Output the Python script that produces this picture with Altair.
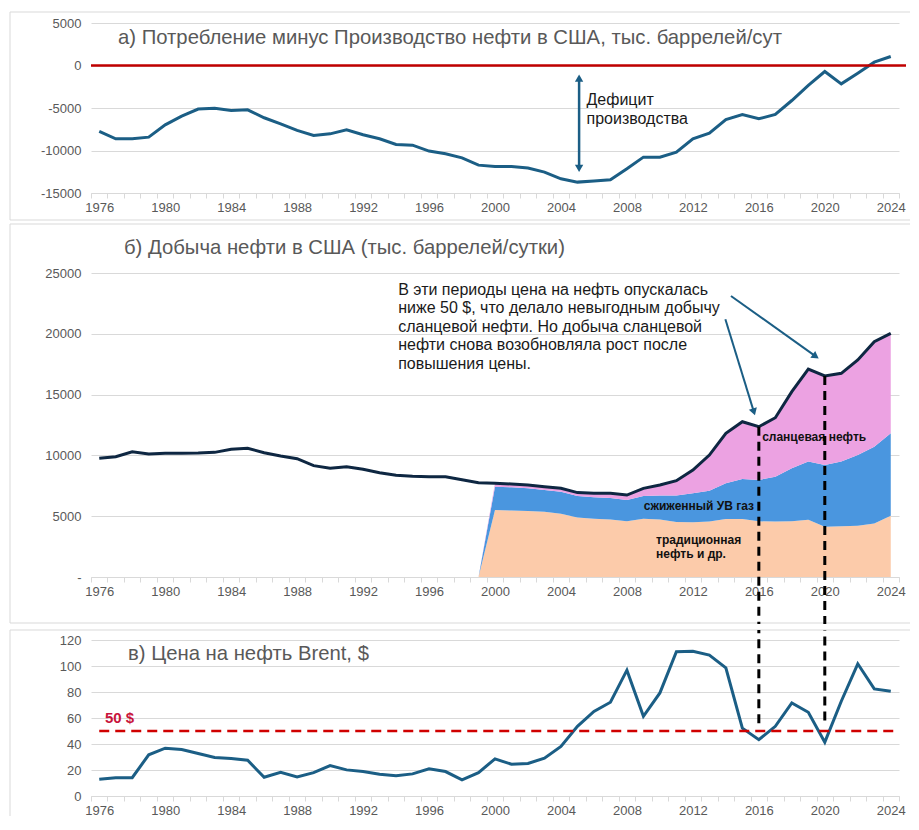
import altair as alt
import pandas as pd

# ---------------- data ----------------
years = list(range(1976, 2025))

# a) consumption minus production, thousand barrels/day
deficit = [-7760, -8620, -8620, -8430, -6980, -5960, -5130, -5020, -5290, -5210,
           -6150, -6860, -7640, -8230, -8040, -7570, -8150, -8620, -9290, -9370,
           -10070, -10390, -10860, -11720, -11880, -11880, -12070, -12540, -13330, -13720,
           -13600, -13450, -12150, -10780, -10780, -10190, -8620, -7960, -6350, -5760,
           -6270, -5760, -4120, -2350, -710, -2160, -900, 390, 1060]

# b) total production
production_total = [9760, 9890, 10300, 10120, 10170, 10180, 10200, 10250, 10500, 10580,
                    10220, 9950, 9730, 9160, 8940, 9070, 8860, 8580, 8360, 8280,
                    8250, 8250, 8000, 7760, 7700, 7650, 7570, 7430, 7290, 6940,
                    6880, 6880, 6740, 7290, 7570, 7920, 8800, 10030, 11820, 12770,
                    12360, 13100, 15240, 17100, 16530, 16750, 17850, 19350, 20040]

stack_years = list(range(1999, 2025))
conventional = [0, 5510, 5460, 5420, 5370, 5200, 4900, 4800, 4720, 4580, 4800, 4730, 4520,
                4500, 4560, 4780, 4760, 4580, 4560, 4580, 4700, 4140, 4180, 4220, 4400, 5040]
ngl = [0, 1920, 1920, 1870, 1780, 1820, 1760, 1750, 1780, 1750, 1860, 1980, 2190,
       2380, 2540, 2920, 3300, 3400, 3690, 4360, 4790, 5070, 5310, 5820, 6320, 6780]
shale = [0, 270, 270, 280, 280, 270, 280, 330, 380, 410, 630, 860, 1210,
         1920, 2930, 4120, 4710, 4380, 4850, 6300, 7610, 7320, 7260, 7810, 8630, 8220]
series_names = ["традиционная нефть и др.", "сжиженный УВ газ", "сланцевая нефть"]
series_colors = ["#fccbaa", "#4a96df", "#eca2e2"]

# c) Brent price, $
brent = [12.9, 14.1, 14.1, 31.7, 36.8, 35.8, 32.7, 29.6, 28.8, 27.5,
         14.4, 18.3, 14.7, 18.0, 23.4, 20.1, 18.8, 16.7, 15.5, 17.0,
         20.9, 18.8, 12.4, 18.0, 28.6, 24.4, 25.0, 29.1, 38.1, 53.6,
         65.1, 72.1, 96.8, 61.3, 79.3, 111.0, 111.3, 108.4, 98.6, 52.2,
         43.3, 53.6, 71.6, 64.4, 41.4, 72.9, 101.7, 82.4, 80.6]

low_price_years = [2016, 2020]
low_price_prod = [12360, 16530]
low_price_brent_top = [56, 58]

titles = ["а) Потребление минус Производство нефти в США, тыс. баррелей/сут",
          "б) Добыча нефти в США (тыс. баррелей/сутки)",
          "в) Цена на нефть Brent, $"]
note_a = ["Дефицит", "производства"]
note_b = ["В эти периоды цена на нефть опускалась",
          "ниже 50 $, что делало невыгодным добычу",
          "сланцевой нефти. Но добыча сланцевой",
          "нефти снова возобновляла рост после",
          "повышения цены."]

# ---------------- style ----------------
W = 808
HA, HB, HC = 170, 304, 156
FONT = "Liberation Sans"
GRID = "#d9d9d9"
LABEL = "#595959"
TEAL = "#1b5e85"
NAVY = "#0e2742"
RED = "#c00000"

xscale = alt.Scale(domain=[1975.5, 2024.5], nice=False, zero=False)
tick_vals = [1975.5 + i for i in range(50)]

XAX = alt.Axis(values=tick_vals,
               labelExpr="(datum.value + 0.5) % 4 == 0 ? '' + (datum.value + 0.5) : ''",
               labelOffset=W / 49 / 2, labelFlush=False, labelOverlap=False,
               grid=False, domainColor=GRID, domainWidth=1, tickColor=GRID,
               tickSize=5, labelPadding=3, labelColor=LABEL, labelFontSize=13,
               labelFont=FONT, title=None)


def y_axis(vals, expr):
    return alt.Axis(values=vals, labelExpr=expr, grid=True, gridColor=GRID, gridWidth=1,
                    domain=False, ticks=False, labelPadding=10, labelColor=LABEL,
                    labelFontSize=13, labelFont=FONT, title=None)


YAX_A = y_axis([-15000, -10000, -5000, 0, 5000], "'' + datum.value")
YAX_B = y_axis([0, 5000, 10000, 15000, 20000, 25000],
               "datum.value == 0 ? '-' : '' + datum.value")
YAX_C = y_axis([0, 20, 40, 60, 80, 100, 120], "'' + datum.value")


def X(f):
    return alt.X(f, scale=xscale, axis=XAX)


def one():
    return pd.DataFrame({"k": [0]})


def box(top, bottom, draw_bottom=True):
    """Panel frame: top, left and (optionally) bottom edges; the right edge lies off-page."""
    layers = [
        alt.Chart(one()).mark_rule(color=GRID, strokeWidth=1).encode(
            x=alt.value(-81), x2=alt.value(W + 11), y=alt.value(top)),
        alt.Chart(one()).mark_rule(color=GRID, strokeWidth=1).encode(
            x=alt.value(-81), y=alt.value(top), y2=alt.value(bottom)),
    ]
    if draw_bottom:
        layers.append(alt.Chart(one()).mark_rule(color=GRID, strokeWidth=1).encode(
            x=alt.value(-81), x2=alt.value(W + 11), y=alt.value(bottom)))
    return alt.layer(*layers)


def title_text(txt, x, y):
    return alt.Chart(one()).mark_text(text=txt, align="left", baseline="middle",
                                      fontSize=20.3, font=FONT, color=LABEL).encode(
        x=alt.value(x), y=alt.value(y))


# ---------------- panel a ----------------
ya = alt.Scale(domain=[-15000, 5000], nice=False)


def YA(f):
    return alt.Y(f, scale=ya, axis=YAX_A)


dfa = pd.DataFrame({"year": years, "v": deficit})

a_line = alt.Chart(dfa).mark_line(color=TEAL, strokeWidth=3).encode(x=X("year:Q"), y=YA("v:Q"))
a_zero = alt.Chart(pd.DataFrame({"v": [0]})).mark_rule(color=RED, strokeWidth=2.5).encode(
    y=YA("v:Q"), x=alt.value(0), x2=alt.value(W + 7))
a_shaft = alt.Chart(pd.DataFrame({"x": [2005.1], "y1": [-1494], "y2": [-12113]})).mark_rule(
    color=TEAL, strokeWidth=2.5).encode(x=X("x:Q"), y=YA("y1:Q"), y2="y2:Q")
a_heads = alt.Chart(pd.DataFrame({"x": [2005.1, 2005.1], "y": [-1494, -12113],
                                  "s": ["triangle-up", "triangle-down"]})).mark_point(
    filled=True, color=TEAL, size=70, opacity=1).encode(
    x=X("x:Q"), y=YA("y:Q"), shape=alt.Shape("s:N", scale=None, legend=None))
a_note = alt.Chart(pd.DataFrame({"x": [2005.55], "y": [-3116]})).mark_text(
    text=note_a, align="left", baseline="top", fontSize=16, lineHeight=19, font=FONT,
    color="#1a1a1a").encode(x=X("x:Q"), y=YA("y:Q"))

pa = alt.layer(box(-11, HA + 27), a_line, a_zero, a_shaft, a_heads, a_note,
               title_text(titles[0], 27, 15)).properties(width=W, height=HA)

# ---------------- panel b ----------------
yb = alt.Scale(domain=[0, 25000], nice=False)


def YB(f, **kw):
    return alt.Y(f, scale=yb, axis=YAX_B, **kw)


rows = []
for i, yr in enumerate(stack_years):
    for k, vals in enumerate([conventional, ngl, shale]):
        rows.append({"year": yr, "series": series_names[k], "ord": k, "v": vals[i]})
dfs = pd.DataFrame(rows)

b_area = alt.Chart(dfs).mark_area(interpolate="linear", opacity=1).encode(
    x=X("year:Q"),
    y=YB("v:Q", stack="zero"),
    color=alt.Color("series:N", scale=alt.Scale(domain=series_names, range=series_colors),
                    legend=None),
    order=alt.Order("ord:Q"))
b_line = alt.Chart(pd.DataFrame({"year": years, "v": production_total})).mark_line(
    color=NAVY, strokeWidth=3).encode(x=X("year:Q"), y=YB("v:Q"))
b_dash = alt.Chart(pd.DataFrame({"year": low_price_years, "v": low_price_prod})).mark_rule(
    color="black", strokeWidth=3, strokeDash=[9, 6]).encode(
    x=X("year:Q"), y=YB("v:Q"), y2=alt.value(HB + 47))
b_shafts = alt.Chart(pd.DataFrame({"x1": [2013.97, 2014.31], "y1": [21200, 23110],
                                   "x2": [2015.70, 2019.45], "y2": [13580, 18142]})).mark_rule(
    color=TEAL, strokeWidth=2).encode(x=X("x1:Q"), y=YB("y1:Q"), x2="x2:Q", y2="y2:Q")
b_heads = alt.Chart(pd.DataFrame({"x": [2015.70, 2019.45], "y": [13580, 18142],
                                  "a": [72.9, 35.5]})).mark_point(
    filled=True, color=TEAL, size=70, opacity=1, shape="triangle-right").encode(
    x=X("x:Q"), y=YB("y:Q"), angle=alt.Angle("a:Q", scale=None))
b_note = alt.Chart(pd.DataFrame({"x": [1994.13], "y": [24300]})).mark_text(
    text=note_b, align="left", baseline="top", fontSize=16, lineHeight=18.6, font=FONT,
    color="#1a1a1a").encode(x=X("x:Q"), y=YB("y:Q"))
b_lab1 = alt.Chart(pd.DataFrame({"x": [2016.2, 2009.02], "y": [11540, 5865],
                                 "t": ["сланцевая нефть", "сжиженный УВ газ"]})).mark_text(
    align="left", baseline="middle", fontSize=12, fontWeight="bold", font=FONT,
    color="#111111").encode(x=X("x:Q"), y=YB("y:Q"), text="t:N")
b_lab2 = alt.Chart(pd.DataFrame({"x": [2009.77], "y": [3430]})).mark_text(
    text=["традиционная", "нефть и др."], align="left", baseline="top", fontSize=12,
    lineHeight=14, fontWeight="bold", font=FONT, color="#111111").encode(
    x=X("x:Q"), y=YB("y:Q"))

pb = alt.layer(box(-49, HB + 46), b_area, b_line, b_lab1, b_lab2, b_dash, b_shafts, b_heads,
               b_note, title_text(titles[1], 33, -25)).properties(width=W, height=HB)

# ---------------- panel c ----------------
yc = alt.Scale(domain=[0, 120], nice=False)


def YC(f):
    return alt.Y(f, scale=yc, axis=YAX_C)


c_line = alt.Chart(pd.DataFrame({"year": years, "v": brent})).mark_line(
    color=TEAL, strokeWidth=3).encode(x=X("year:Q"), y=YC("v:Q"))
c_fifty = alt.Chart(pd.DataFrame({"x1": [1976.0], "x2": [2024.5], "v": [50]})).mark_rule(
    color="#d00000", strokeWidth=2.5, strokeDash=[10, 6]).encode(
    x=X("x1:Q"), x2="x2:Q", y=YC("v:Q"))
c_fifty_lab = alt.Chart(pd.DataFrame({"x": [1976.35], "y": [60]})).mark_text(
    text="50 $", align="left", baseline="middle", fontSize=15, fontWeight="bold", font=FONT,
    color="#c8143c").encode(x=X("x:Q"), y=YC("y:Q"))
c_dash = alt.Chart(pd.DataFrame({"year": low_price_years, "v": low_price_brent_top})).mark_rule(
    color="black", strokeWidth=3, strokeDash=[9, 6]).encode(
    x=X("year:Q"), y=YC("v:Q"), y2=alt.value(-10))

pc = alt.layer(box(-10, HC + 20, draw_bottom=False), c_line, c_fifty, c_fifty_lab, c_dash,
               title_text(titles[2], 37, 14)).properties(width=W, height=HC)

chart = alt.vconcat(pa, pb, pc, spacing=2).properties(
    padding={"left": 1, "top": 3, "right": 0, "bottom": 0}
).configure(font=FONT).configure_view(strokeWidth=0)

chart.save("out.html", embed_options={"renderer": "svg", "actions": False})
